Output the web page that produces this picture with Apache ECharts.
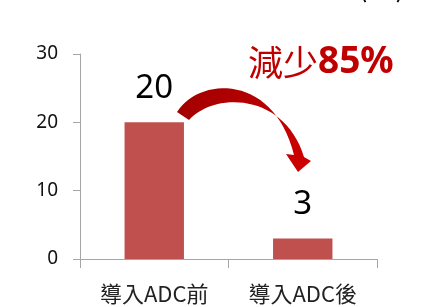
<!DOCTYPE html>
<html>
<head>
<meta charset="utf-8">
<script src="https://cdn.jsdelivr.net/npm/echarts@6/dist/echarts.min.js"></script>
<style>
  html, body { margin: 0; padding: 0; background: #fff; }
  #chart { width: 423px; height: 307px; }
</style>
</head>
<body>
<div id="chart"></div>
<script>
var categories = ['導入ADC前', '導入ADC後'];
var values = [20, 3];
var yTicks = [0, 10, 20, 30];
var note = '減少85%';

var chart = echarts.init(document.getElementById('chart'));
var font = '"Noto Sans CJK TC", "Noto Sans", sans-serif';

// curved arrow outline (annotation only)
function bez(p0, p1, p2, p3, n) {
  var pts = [];
  for (var i = 0; i <= n; i++) {
    var t = i / n, u = 1 - t;
    pts.push([
      u * u * u * p0[0] + 3 * u * u * t * p1[0] + 3 * u * t * t * p2[0] + t * t * t * p3[0],
      u * u * u * p0[1] + 3 * u * u * t * p1[1] + 3 * u * t * t * p2[1] + t * t * t * p3[1]
    ]);
  }
  return pts;
}
var outer = bez([177, 112], [200, 76], [274, 74], [294, 155], 30);
var inner = bez([304, 157], [284, 92], [214, 92], [189, 120], 30);
var arrowPts = outer.concat([[286, 154], [298, 172], [311, 161]]).concat(inner);

var option = {
  backgroundColor: '#ffffff',
  animation: false,
  grid: { left: 80, right: 46, top: 54, bottom: 48 },
  xAxis: {
    type: 'category',
    data: categories,
    axisLine: { lineStyle: { color: '#a6a6a6', width: 1 } },
    axisTick: { show: true, length: 9, lineStyle: { color: '#a6a6a6' } },
    axisLabel: { fontSize: 22, color: '#222', margin: 24, fontFamily: font }
  },
  yAxis: {
    type: 'value',
    min: yTicks[0],
    max: yTicks[yTicks.length - 1],
    interval: 10,
    splitLine: { show: false },
    axisLine: { show: true, lineStyle: { color: '#a6a6a6', width: 1 } },
    axisTick: { show: true, length: 7, lineStyle: { color: '#a6a6a6' } },
    axisLabel: { fontSize: 19, color: '#111', margin: 22, fontFamily: '"Noto Sans", sans-serif' }
  },
  series: [{
    type: 'bar',
    data: values,
    barWidth: '40%',
    itemStyle: { color: '#C0504D' },
    label: {
      show: true,
      position: 'top',
      distance: 17,
      fontSize: 33,
      color: '#000',
      fontFamily: '"Noto Sans", sans-serif'
    }
  }],
  graphic: [
    {
      type: 'text',
      left: 248,
      top: 44,
      style: {
        text: '{a|減少}{b|85%}',
        rich: {
          a: { fontSize: 35, fill: '#C00000', fontFamily: '"Noto Sans CJK TC", sans-serif' },
          b: { fontSize: 37, fill: '#C00000', fontWeight: 'bold', fontFamily: '"Noto Sans", sans-serif' }
        }
      }
    },
    {
      type: 'text',
      left: 358,
      top: -28,
      style: { text: '(件)', fontSize: 28, fill: '#000', fontFamily: font }
    },
    {
      type: 'polygon',
      shape: { points: arrowPts },
      style: {
        fill: {
          type: 'linear', x: 0, y: 0, x2: 1, y2: 1,
          colorStops: [
            { offset: 0, color: '#A00000' },
            { offset: 1, color: '#D00000' }
          ]
        }
      }
    }
  ]
};

chart.setOption(option);
</script>
</body>
</html>
